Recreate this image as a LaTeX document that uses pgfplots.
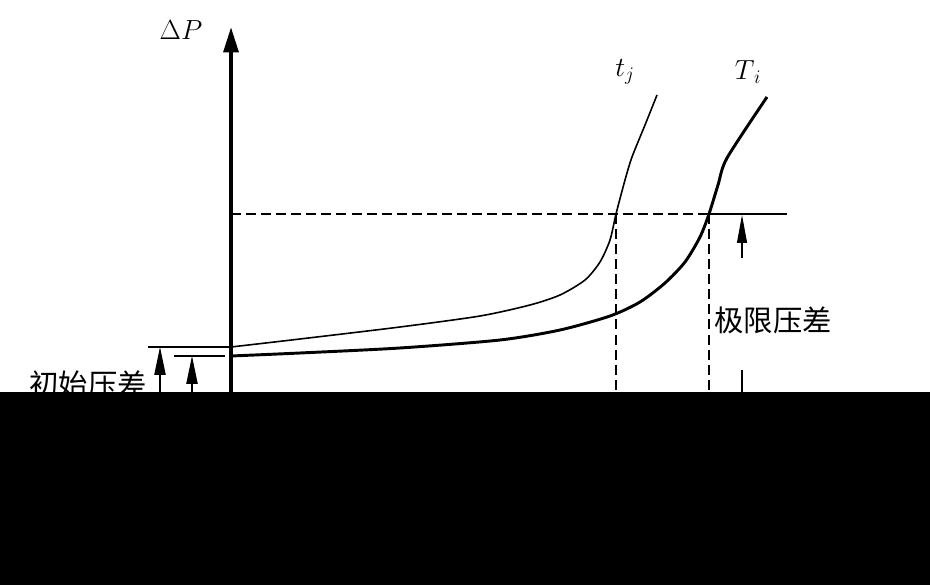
\documentclass[border=0pt]{standalone}
\usepackage{pgfplots}
\pgfplotsset{compat=1.18}
\usetikzlibrary{arrows.meta}
\usepackage{fontspec}
\setmainfont{Liberation Serif}
\newfontfamily\cjk{Noto Sans CJK SC}

\begin{document}
\begin{tikzpicture}
\begin{axis}[
    x=0.75pt, y=0.75pt,
    xmin=0, xmax=930, ymin=0, ymax=585,
    hide axis, clip=false,
    ]
    % frame of the picture
    \addplot[draw=none, forget plot] coordinates {(0,0) (930,585)};
    % curve t_j
    \addplot[black, line width=1.2pt, smooth, tension=0.45] coordinates {
        (231,238) (300,246) (400,258) (480,269) (530,280) (560,290)
        (585,305) (600,323) (610,345) (616,371) (625,405) (632,428)
        (645,460) (657,490)
    };
    % curve T_i
    \addplot[black, line width=2.2pt, smooth, tension=0.45] coordinates {
        (231,229) (300,232) (400,237) (500,245) (560,255) (610,269)
        (640,283) (665,302) (685,323) (700,348) (709,371) (718,400)
        (727,427) (767,488)
    };
    % limit pressure level
    \addplot[black, line width=0.8pt, dash pattern=on 7.5pt off 3.8pt] coordinates {(231,371) (709,371)};
    \addplot[black, line width=0.8pt] coordinates {(709,371) (787,371)};
    \addplot[black, line width=0.8pt, dash pattern=on 7.5pt off 3.8pt] coordinates {(616,371) (616,180)};
    \addplot[black, line width=0.8pt, dash pattern=on 7.5pt off 3.8pt] coordinates {(709,371) (709,180)};
    % limit arrow
    \addplot[black, line width=0.8pt, -{Triangle[length=21pt, width=7.5pt]}] coordinates {(742,327) (742,370)};
    \addplot[black, line width=0.8pt] coordinates {(742,180) (742,215)};
    % initial pressure marks
    \addplot[black, line width=0.8pt] coordinates {(148,238) (231,238)};
    \addplot[black, line width=0.8pt] coordinates {(174,229) (225,229)};
    \addplot[black, line width=0.8pt, -{Triangle[length=21pt, width=8.5pt]}] coordinates {(160,180) (160,238)};
    \addplot[black, line width=0.8pt, -{Triangle[length=21pt, width=8.5pt]}] coordinates {(192,180) (192,229)};
    % vertical axis
    \addplot[black, line width=3pt, -{Triangle[length=19pt, width=11pt]}] coordinates {(231,180) (231,558)};
    % texts
    \node[font=\fontsize{20}{20}\selectfont] at (axis cs:181,555) {$\Delta P$};
    \node[font=\fontsize{22}{22}\selectfont] at (axis cs:625,513) {$t_j$};
    \node[font=\fontsize{22}{22}\selectfont] at (axis cs:748,513) {$T_{\,i}$};
    \node[font=\fontsize{22}{22}\selectfont\cjk] at (axis cs:773,265) {极限压差};
    \node[font=\fontsize{22}{22}\selectfont\cjk] at (axis cs:88,201) {初始压差};
    % dark lower band
    \addplot[draw=none, fill=black] coordinates {(0,0) (930,0) (930,193) (0,193)} -- cycle;
\end{axis}
\end{tikzpicture}
\end{document}
